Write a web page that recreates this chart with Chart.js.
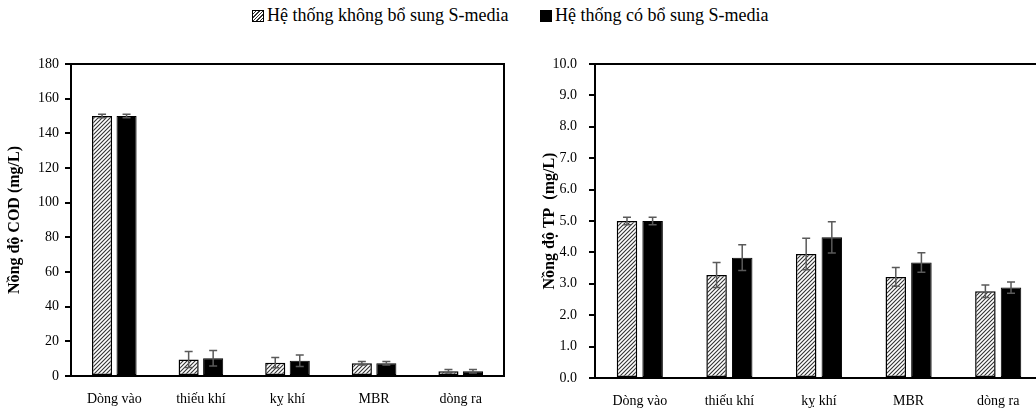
<!DOCTYPE html>
<html>
<head>
<meta charset="utf-8">
<script src="https://cdn.jsdelivr.net/npm/chart.js@4.4.1/dist/chart.umd.min.js"></script>
<style>
  html, body { margin: 0; padding: 0; background: #fff; }
  body { width: 1036px; height: 412px; position: relative; overflow: hidden; font-family: "Liberation Serif", "DejaVu Serif", serif; }
  .item { position: absolute; top: 5px; display: flex; align-items: center; font-size: 18px; color: #000; white-space: nowrap; }
  .box { width: 10px; height: 10px; border: 1px solid #000; margin-right: 3px; }
  .hatch { background: repeating-linear-gradient(135deg, #fff 0 1.5px, #333 1.5px 2.5px); }
  .solid { background: #000; }
  #cod { position: absolute; left: 0; top: 0; }
  #tp { position: absolute; left: 520px; top: 0; }
</style>
</head>
<body>
<div class="item" style="left:252px"><span class="box hatch"></span><span>Hệ thống không bổ sung S-media</span></div>
<div class="item" style="left:540px"><span class="box solid"></span><span>Hệ thống có bổ sung S-media</span></div>
<canvas id="cod" width="520" height="412"></canvas>
<canvas id="tp" width="523" height="412"></canvas>
<script>
// ---- data ----
const categories = ['Dòng vào', 'thiếu khí', 'kỵ khí', 'MBR', 'dòng ra'];
const seriesNames = ['Hệ thống không bổ sung S-media', 'Hệ thống có bổ sung S-media'];

const codNo = [150, 9.5, 7.7, 7.3, 2.7];
const codNoErr = [1, 4.6, 3.0, 1.0, 1.0];
const codYes = [150, 10.2, 8.8, 7.3, 2.8];
const codYesErr = [1, 4.5, 3.3, 1.0, 1.0];

const tpNo = [5.0, 3.28, 3.95, 3.22, 2.76];
const tpNoErr = [0.12, 0.40, 0.50, 0.30, 0.20];
const tpYes = [5.0, 3.83, 4.48, 3.68, 2.88];
const tpYesErr = [0.12, 0.41, 0.50, 0.31, 0.18];

const codTicks = { min: 0, max: 180, step: 20 };
const tpTicks = { min: 0, max: 10, step: 1 };

// ---- helpers ----
const FONT = '"Liberation Serif", "DejaVu Serif", serif';

function hatchPattern() {
  const c = document.createElement('canvas');
  c.width = 4; c.height = 4;
  const g = c.getContext('2d');
  g.fillStyle = '#fff';
  g.fillRect(0, 0, 4, 4);
  g.strokeStyle = '#333';
  g.lineWidth = 1.1;
  g.beginPath();
  g.moveTo(0, 4); g.lineTo(4, 0);
  g.moveTo(-1, 1); g.lineTo(1, -1);
  g.moveTo(3, 5); g.lineTo(5, 3);
  g.stroke();
  return g.createPattern(c, 'repeat');
}

// error bars drawn from dataset.errors via the y scale
const errorBars = {
  id: 'errorBars',
  afterDatasetsDraw(chart) {
    const ctx = chart.ctx;
    const y = chart.scales.y;
    ctx.save();
    ctx.strokeStyle = '#5a5a5a';
    ctx.lineWidth = 1.5;
    chart.data.datasets.forEach((ds, i) => {
      const meta = chart.getDatasetMeta(i);
      meta.data.forEach((bar, j) => {
        const v = ds.data[j], e = ds.errors[j];
        const top = y.getPixelForValue(v + e);
        const bot = y.getPixelForValue(v - e);
        const x = bar.x, w = 4;
        ctx.beginPath();
        ctx.moveTo(x, top); ctx.lineTo(x, bot);
        ctx.moveTo(x - w, top); ctx.lineTo(x + w, top);
        ctx.moveTo(x - w, bot); ctx.lineTo(x + w, bot);
        ctx.stroke();
      });
    });
    ctx.restore();
  }
};

// box round the plot area
const frame = {
  id: 'frame',
  afterDraw(chart) {
    const { left, right, top, bottom } = chart.chartArea;
    const ctx = chart.ctx;
    ctx.save();
    ctx.strokeStyle = '#000';
    ctx.lineWidth = 2;
    ctx.strokeRect(left, top, right - left, bottom - top);
    ctx.restore();
  }
};

function makeChart(id, noVals, noErr, yesVals, yesErr, ticks, title, fmt, geo) {
  return new Chart(document.getElementById(id), {
    type: 'bar',
    data: {
      labels: categories,
      datasets: [
        { label: seriesNames[0], data: noVals, errors: noErr, backgroundColor: hatchPattern(),
          borderColor: '#000', borderWidth: 1.5, borderSkipped: false,
          categoryPercentage: geo.cp, barPercentage: geo.bp },
        { label: seriesNames[1], data: yesVals, errors: yesErr, backgroundColor: '#000',
          borderColor: '#000', borderWidth: 1, borderSkipped: false,
          categoryPercentage: geo.cp, barPercentage: geo.bp },
      ],
    },
    options: {
      responsive: false,
      animation: false,
      devicePixelRatio: 1,
      layout: { padding: { top: 64, right: geo.right, left: 0, bottom: 0 } },
      plugins: { legend: { display: false }, tooltip: { enabled: false } },
      scales: {
        x: {
          grid: { display: false, drawTicks: false },
          border: { display: false },
          ticks: { color: '#000', font: { family: FONT, size: 14 }, padding: 15, maxRotation: 0 },
          afterFit: (s) => { s.height = geo.xh; },
        },
        y: {
          min: ticks.min, max: ticks.max,
          grid: { drawOnChartArea: false, color: '#000', lineWidth: 2, tickLength: 6 },
          border: { display: false },
          ticks: { stepSize: ticks.step, color: '#000', font: { family: FONT, size: 14 }, padding: geo.tp,
                   callback: fmt },
          title: { display: true, text: title, color: '#000', font: { family: FONT, size: 16, weight: 'bold' },
                   padding: { top: geo.titlePad, bottom: 0 } },
          afterFit: (s) => { s.width = geo.yw; },
        },
      },
    },
    plugins: [errorBars, frame],
  });
}

makeChart('cod', codNo, codNoErr, codYes, codYesErr, codTicks, 'Nồng độ COD (mg/L)',
  (v) => `${v}`, { cp: 0.566, bp: 0.82, right: 16, xh: 36, yw: 71, tp: 6, titlePad: 5 });

makeChart('tp', tpNo, tpNoErr, tpYes, tpYesErr, tpTicks, 'Nồng độ TP  (mg/L)',
  (v) => Number(v).toFixed(1), { cp: 0.572, bp: 0.8, right: 0, xh: 34, yw: 75, tp: 12, titlePad: 20 });
</script>
</body>
</html>
